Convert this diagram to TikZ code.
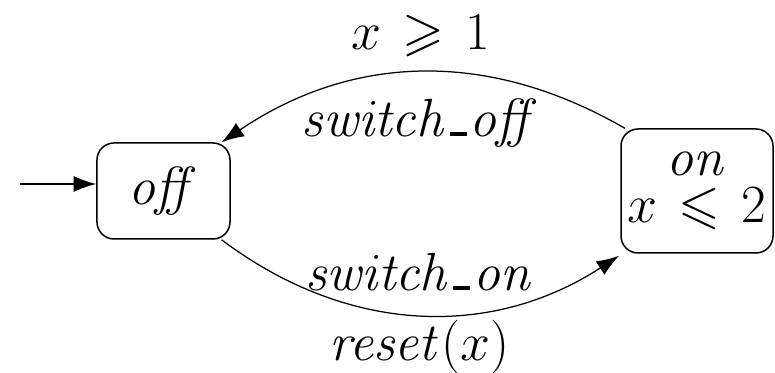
\RequirePackage{fix-cm}
\documentclass[tikz,border=0pt]{standalone}
\usepackage{amsmath}
\usepackage{amssymb}
\usetikzlibrary{arrows.meta}
\newcommand{\usc}{\kern0.05em\rule{0.32em}{0.075em}\kern0.05em}
\newcommand{\lblfont}{\fontsize{21.5}{18.8}\selectfont\thickmuskip=7mu\relax}

\begin{document}
\begin{tikzpicture}[x=0.4pt, y=0.4pt, >={Latex[length=9pt,width=6.4pt]},
    location/.style={draw, rounded corners=6.8pt, line width=0.6pt, align=center, inner sep=2pt},
    trans/.style={->, line width=0.5pt},
    every node/.style={font=\lblfont}]
\useasboundingbox (0,0) rectangle (775,373);

% Nodes
\node[location, minimum width=53.2pt, minimum height=38.4pt] (off) at (163.5,182) {$\mathit{off}$};

\node[location, minimum width=60.8pt, minimum height=49.6pt] (on) at (697,182) {
    $\mathit{on}$\\
    $x \leqslant 2$
};

\coordinate (init) at (20,189);

% Arrows
\draw[trans] (init) -- (init -| off.west);

\draw[trans] (on.139) to[out=150, in=34]
    node[midway, above=2.5pt] {$x \geqslant 1$}
    node[midway, below=7pt] {$\mathit{switch\usc off}$} (off.40);

\draw[trans, shorten >=1.5pt] (off.-40) to[out=-37, in=213]
    node[midway, above=6pt] {$\mathit{switch\usc on}$}
    node[midway, below=-1pt] {$\mathit{reset}(x)$} (on.220);

\end{tikzpicture}
\end{document}
